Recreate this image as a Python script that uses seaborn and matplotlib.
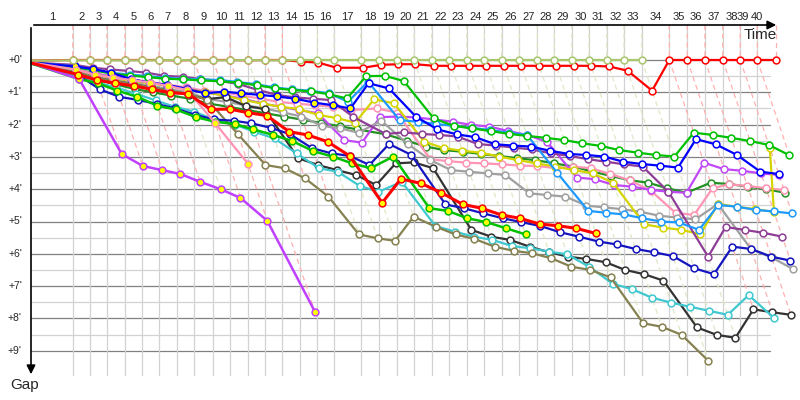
import numpy as np
import pandas as pd
import matplotlib
matplotlib.use("Agg")
import matplotlib.pyplot as plt
import seaborn as sns

# ============================
# data: leader race time (min) at end of each lap, lap 0 = start
# ============================
lap_end = [0, 3.83, 5.41, 6.97, 8.62, 10.18, 11.74, 13.39, 14.95, 16.70, 18.26,
           19.91, 21.47, 23.06, 24.68, 26.27, 27.80, 30.25, 31.96, 33.55, 35.14,
           36.76, 38.38, 39.97, 41.59, 43.18, 44.80, 46.45, 48.01, 49.61, 51.19,
           52.82, 54.40, 56.03, 58.56, 60.21, 61.83, 63.46, 65.07, 66.63, 68.32]

# gap to leader (min) per lap, lap 0 .. last lap of the car
gap_lime = [0.02, 0.01, 0.01, 0.01, 0.01, 0.01, 0.01, 0, 0.01, 0.01, 0.01, 0, 0.01, 0.01] + [0] * 20
gap_red = ([0.02, 0, 0, 0, 0, 0, 0, 0.01, 0, 0, 0, 0.01, 0, 0,
            0.05, 0.08, 0.24, 0.24, 0.15, 0.13, 0.13] + [0.18] * 10 +
           [0.20, 0.33, 0.95] + [0] * 7)
gap_red_y = [0.1, 0.45, 0.62, 0.72, 0.80, 0.91, 1.01, 1.05, 1.53, 1.52, 1.63, 1.72, 2.22, 2.32,
             2.53, 2.97, 4.42, 3.68, 3.82, 4.11, 4.47, 4.59, 4.80, 4.90, 5.08, 5.13, 5.21, 5.37]
gap_violet_y = [0.1, 0.59, 2.91, 3.28, 3.41, 3.53, 3.77, 4.00, 4.27, 4.98, 7.80]
gap_pink_y = [0.08, 0.3, 0.45, 0.55, 0.62, 0.7, 0.8, 0.93, 1.96, 3.22]
gap_olive = [0.1, 0.35, 0.55, 0.65, 0.75, 0.85, 0.95, 1.05, 1.24, 2.3, 3.25, 3.35, 3.66, 4.23,
             5.40, 5.52, 5.60, 4.85, 5.16, 5.40, 5.54, 5.78, 5.91, 5.98, 6.14, 6.40, 6.50, 6.73,
             8.15, 8.26, 8.51, 9.31]
gap_dpurple = [0.08, 0.15, 0.24, 0.29, 0.34, 0.39, 0.49, 0.52, 0.59, 0.65, 0.74, 0.93, 1.08,
               1.16, 1.20, 1.24, 1.76, 2.29, 2.24, 2.29, 2.32, 2.37, 2.60, 2.65, 2.71, 2.77,
               2.89, 2.97, 3.07, 3.15, 3.23, 3.30, 4.08, 6.09, 5.17, 5.26, 5.35, 5.47]
gap_sky = [0.08, 0.2, 0.3, 0.4, 0.45, 0.5, 0.55, 0.58, 0.6, 0.62, 0.68, 0.75, 0.85, 0.91, 0.95,
           1.03, 1.29, 0.67, 1.86, 1.91, 1.98, 2.04, 2.10, 2.17, 2.25, 2.32, 3.5, 4.67, 4.73,
           4.78, 4.90, 5.0, 5.03, 5.26, 4.49, 4.54, 4.64, 4.69, 4.75]
gap_green = [0.08, 0.22, 0.32, 0.42, 0.48, 0.53, 0.58, 0.6, 0.63, 0.66, 0.7, 0.78, 0.87, 0.93,
             0.97, 1.06, 1.19, 0.50, 0.49, 0.65, 1.81, 2.04, 2.12, 2.20, 2.29, 2.35, 2.41, 2.48,
             2.58, 2.66, 2.79, 2.87, 2.94, 2.99, 2.25, 2.32, 2.41, 2.51, 2.63, 2.95]
gap_blue = [0.08, 0.2, 0.28, 0.39, 0.6, 0.70, 0.77, 0.9, 1.03, 0.98, 1.03, 1.08, 1.13, 1.2,
            1.32, 1.40, 1.50, 0.72, 0.88, 1.75, 2.15, 2.3, 2.39, 2.61, 2.65, 2.68, 2.81, 2.91,
            2.94, 2.99, 3.15, 3.22, 3.27, 3.33, 2.45, 2.61, 2.94, 3.46, 3.53]
gap_dblue = [0.1, 0.45, 0.91, 1.14, 1.24, 1.36, 1.50, 1.70, 1.84, 1.88, 1.96, 2.10, 2.3, 2.73,
             2.89, 2.97, 3.25, 2.60, 2.94, 4.47, 4.59, 4.75, 4.90, 5.02, 5.14, 5.33, 5.47, 5.62,
             5.71, 5.85, 5.95, 6.07, 6.45, 6.63, 5.78, 5.85, 6.09, 6.21]
gap_black = [0.12, 0.4, 0.55, 0.65, 0.75, 0.85, 0.95, 1.08, 1.21, 1.15, 1.42, 1.52, 3.04, 3.25,
             3.41, 3.56, 3.87, 3.20, 3.17, 3.35, 5.26, 5.47, 5.57, 5.78, 5.95, 6.09, 6.16, 6.26,
             6.50, 6.63, 6.83, 8.28, 8.51, 8.60, 7.72, 7.81, 7.89]
gap_cyan = [0.12, 0.5, 0.7, 0.85, 1.05, 1.25, 1.45, 1.6, 1.85, 2.0, 2.22, 2.43, 2.89, 3.35, 3.46,
            3.90, 4.08, 3.77, 5.14, 5.31, 5.47, 5.57, 5.76, 5.83, 5.93, 6.02, 6.40, 6.93, 7.09,
            7.36, 7.51, 7.64, 7.76, 7.89, 7.28, 8.0]
gap_green_y = [0.12, 0.59, 0.72, 0.95, 1.14, 1.42, 1.53, 1.77, 1.91, 1.98, 2.15, 2.32, 2.51, 2.82,
               2.99, 3.20, 3.35, 2.99, 4.59, 4.67, 4.90, 5.02, 5.21, 5.40]
gap_gray = [0.1, 0.35, 0.5, 0.6, 0.7, 0.8, 0.9, 1.0, 1.2, 1.3, 1.4, 1.5, 1.62, 1.75, 2.04, 2.12,
            2.25, 1.88, 2.6, 3.1, 3.41, 3.46, 3.51, 3.56, 4.13, 4.18, 4.23, 4.51, 4.56, 4.62,
            4.70, 4.82, 4.88, 4.93, 4.46, 5.86, 6.11, 6.48]
gap_yellow = [0.1, 0.3, 0.45, 0.55, 0.65, 0.72, 0.8, 0.9, 1.0, 1.1, 1.24, 1.35, 1.45, 1.52, 1.70,
              1.80, 1.94, 1.22, 1.34, 2.53, 2.73, 2.81, 2.87, 2.99, 3.10, 3.20, 3.30, 3.41, 3.51,
              3.80, 5.09, 5.19, 5.26, 5.39, 4.46, 4.54, 4.62, 4.70, 2.71]
gap_violet = [0.1, 0.28, 0.42, 0.52, 0.6, 0.7, 0.78, 0.88, 1.0, 1.1, 1.2, 1.35, 1.45, 1.55, 1.65,
              2.48, 2.56, 1.77, 1.75, 1.78, 1.84, 1.91, 2.01, 2.06, 2.20, 2.32, 2.53, 3.64, 3.69,
              3.87, 3.92, 4.02, 4.08, 4.11, 3.18, 3.38, 3.43, 3.51, 3.56]
gap_pink = [0.1, 0.3, 0.42, 0.5, 0.6, 0.68, 0.76, 0.85, 0.95, 1.0, 1.1, 1.2, 1.3, 1.35, 1.4, 1.45,
            1.55, 1.50, 1.63, 3.07, 3.13, 3.18, 3.20, 3.23, 3.27, 3.28, 3.35, 3.30, 3.35, 3.53,
            3.72, 4.05, 4.73, 4.80, 3.97, 3.85, 3.90, 3.97, 4.02]
gap_dgreen = [0.1, 0.4, 0.6, 0.75, 0.9, 1.0, 1.1, 1.2, 1.35, 1.45, 1.55, 1.65, 1.75, 1.85, 1.95,
              2.05, 2.15, 2.3, 2.5, 2.68, 2.79, 2.84, 2.91, 2.97, 3.04, 3.1, 3.2, 3.3, 3.45, 3.59,
              3.72, 3.80, 3.97, 4.11, 3.80, 3.84, 3.92, 4.0, 4.11]

# name, gaps, line colour, yellow markers up to this lap, line width (bottom to top)
drivers = [
    ("dgreen", gap_dgreen, "#229122", 0, 1.6),
    ("pink", gap_pink, "#ff94b4", 0, 1.6),
    ("violet", gap_violet, "#c048f8", 0, 1.6),
    ("gray", gap_gray, "#a0a0a0", 0, 1.6),
    ("yellow", gap_yellow, "#d4d400", 0, 1.6),
    ("black", gap_black, "#333333", 0, 1.6),
    ("cyan", gap_cyan, "#40c8d0", 0, 1.6),
    ("olive", gap_olive, "#858150", 0, 1.6),
    ("dblue", gap_dblue, "#1414c0", 0, 1.6),
    ("dpurple", gap_dpurple, "#8e3e96", 0, 1.6),
    ("sky", gap_sky, "#1e9aff", 0, 1.6),
    ("green", gap_green, "#00c000", 0, 1.6),
    ("blue", gap_blue, "#0000ff", 16, 1.6),
    ("green_y", gap_green_y, "#00c000", 99, 1.8),
    ("pink_y", gap_pink_y, "#ff94b4", 99, 1.6),
    ("violet_y", gap_violet_y, "#c040ff", 99, 1.8),
    ("red_y", gap_red_y, "#ff0000", 99, 2.2),
    ("red", gap_red, "#ff0000", 0, 1.6),
    ("lime", gap_lime, "#a8c66c", 0, 1.6),
]

rows = []
for name, gaps, col, ylap, lw in drivers:
    for lap, g in enumerate(gaps):
        rows.append({"driver": name, "lap": lap, "gap": g, "time": lap_end[lap] + g})
df = pd.DataFrame(rows)

# ============================
# canvas: pixel mapping of the reference
# ============================
PX_X, PX_Y = 10.9, 32.3          # px per minute
X0, Y0 = 31, 60                  # pixel of time 0 / gap 0
def tx(px): return (px - X0) / PX_X
def gy(py): return (py - Y0) / PX_Y

sns.set_theme(style="white")
plt.rcParams["font.family"] = ["Liberation Sans", "DejaVu Sans"]

fig = plt.figure(figsize=(8, 4), dpi=100)
ax = fig.add_axes([0, 0, 1, 1])

top, bottom, right = gy(25), gy(375), tx(770)

# grid
for g in np.arange(0, 9.01, 0.5):
    major = float(g).is_integer()
    ax.plot([0, right], [g, g], color="#808080" if major else "#d2d2d2", lw=0.9, zorder=1)
for t in lap_end[1:]:
    if t <= right:
        ax.plot([t, t], [top, bottom], color="#d2d2d2", lw=0.9, zorder=1)

# dashed lap lines: straight down to the leader, then along the gaps to the last car
for lap in range(1, len(lap_end)):
    cur = df[df["lap"] == lap]
    lead = cur.loc[cur["gap"].idxmin(), "driver"]
    gmax = cur["gap"].max()
    t = lap_end[lap]
    col = "#ffb0b0" if lead == "red" else "#dfe8c8"
    ax.plot([t, t, t + gmax], [top, 0, gmax], color=col, lw=0.9, ls=(0, (4, 3)), zorder=1.5)

# drivers
for i, (name, gaps, col, ylap, lw) in enumerate(drivers):
    d = df[df["driver"] == name]
    z = 3 + i * 0.1
    sns.lineplot(data=d, x="time", y="gap", sort=False, estimator=None, color=col,
                 lw=lw, ax=ax, zorder=z)
    m = d[d["lap"] > 0]
    for face, sub in (("#ffff00", m[m["lap"] <= ylap]), ("white", m[m["lap"] > ylap])):
        if len(sub):
            sns.scatterplot(data=sub, x="time", y="gap", s=24, color=face, edgecolor=col,
                            linewidth=1.1, ax=ax, zorder=z + 0.05)

ax.set_xlim(tx(0), tx(800))
ax.set_ylim(gy(400), gy(0))
ax.axis("off")

# axes with arrows
ax.annotate("", xy=(tx(779), top), xytext=(0, top),
            arrowprops=dict(arrowstyle="-|>", color="black", lw=1.2, mutation_scale=13), zorder=6)
ax.annotate("", xy=(0, gy(377)), xytext=(0, top),
            arrowprops=dict(arrowstyle="-|>", color="black", lw=1.2, mutation_scale=13), zorder=6)
ax.text(tx(760), gy(35), "Time", fontsize=11, ha="center", va="center")
ax.text(tx(25), gy(385), "Gap", fontsize=11, ha="center", va="center")

# lap numbers between lap lines, last two squeezed before the arrow
label_x = [(lap_end[i - 1] + lap_end[i]) / 2 for i in range(1, len(lap_end))]
label_x[-2], label_x[-1] = tx(743), tx(757)
for lap, x in enumerate(label_x, start=1):
    ax.text(x, gy(17), str(lap), fontsize=8, ha="center", va="center")

for g in range(10):
    ax.text(tx(22), g, f"+{g}'", fontsize=7.5, ha="right", va="center")

fig.savefig("out.png", dpi=100)
